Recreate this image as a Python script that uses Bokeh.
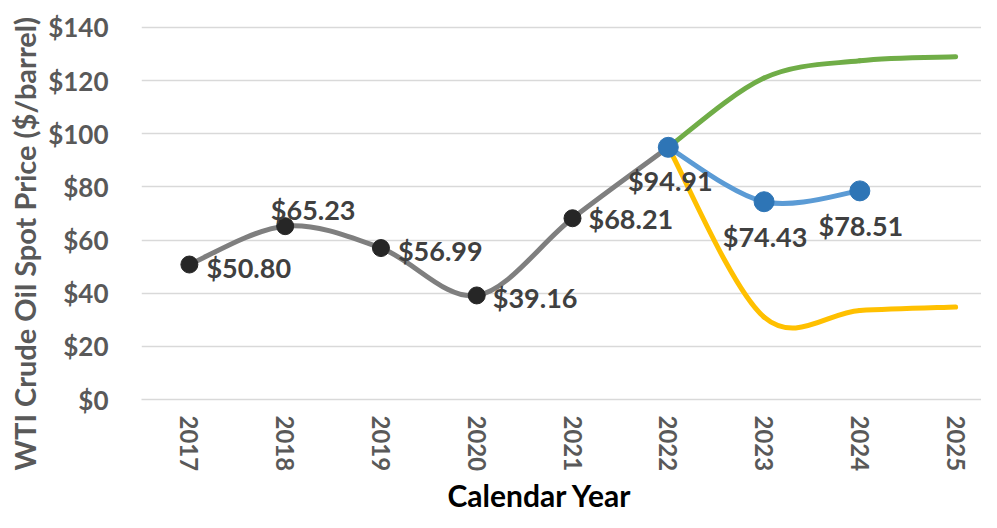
import math
from bokeh.plotting import figure
from bokeh.models import Range1d, FixedTicker, PrintfTickFormatter, ColumnDataSource, Title
from bokeh.core.properties import value
from bokeh.embed import file_html
from bokeh.resources import INLINE

# ---- data ----
years = [2017, 2018, 2019, 2020, 2021, 2022, 2023, 2024, 2025]
year_labels = ["2017", "2018", "2019", "2020", "2021", "2022", "2023", "2024", "2025"]
y_ticks = [0, 20, 40, 60, 80, 100, 120, 140]

hist_years = [2017, 2018, 2019, 2020, 2021, 2022]
hist_prices = [50.80, 65.23, 56.99, 39.16, 68.21, 94.91]

base_years = [2022, 2023, 2024]
base_prices = [94.91, 74.43, 78.51]

high_years = [2022, 2023, 2024, 2025]
high_prices = [94.91, 121.0, 127.5, 129.0]

low_years = [2022, 2023, 2024, 2025]
low_prices = [94.91, 31.0, 33.5, 34.8]

x_title = "Calendar Year"
y_title = "WTI Crude Oil Spot Price ($/barrel)"

# label placement (style only)
hist_align = ["left", "center", "left", "left", "left", "center"]
hist_dx = [17, 28, 17, 16, 16, 2]
hist_dy = [3, -17, 2, 2, 0, 33]
base_align = ["center", "center"]
base_dx = [1, 1]
base_dy = [35, 35]


def bezier_source(xs, ys, t=1.0 / 6.0):
    n = len(xs)
    d = dict(x0=[], y0=[], x1=[], y1=[], cx0=[], cy0=[], cx1=[], cy1=[])
    for i in range(n - 1):
        a = max(i - 1, 0)
        b = min(i + 2, n - 1)
        d["x0"].append(xs[i]); d["y0"].append(ys[i])
        d["x1"].append(xs[i + 1]); d["y1"].append(ys[i + 1])
        d["cx0"].append(xs[i] + (xs[i + 1] - xs[a]) * t)
        d["cy0"].append(ys[i] + (ys[i + 1] - ys[a]) * t)
        d["cx1"].append(xs[i + 1] - (xs[b] - xs[i]) * t)
        d["cy1"].append(ys[i + 1] - (ys[b] - ys[i]) * t)
    return ColumnDataSource(d)


FONT = "Lato"

X0, X1 = 2016.5, 2025.27
Y0, Y1 = 0, 150.16
p = figure(width=981, height=512,
           x_range=Range1d(X0, X1), y_range=Range1d(Y0, Y1),
           output_backend="svg", toolbar_location=None,
           min_border_left=140, min_border_right=0, min_border_top=0,
           min_border_bottom=113)
p.outline_line_color = None
p.background_fill_color = "white"
p.border_fill_color = "white"

# axes
p.yaxis.ticker = FixedTicker(ticks=y_ticks)
p.yaxis.formatter = PrintfTickFormatter(format="$%d")
p.xaxis.ticker = FixedTicker(ticks=years)
p.xaxis.major_label_overrides = {y: s for y, s in zip(years, year_labels)}
p.xaxis.major_label_orientation = -math.pi / 2

for ax in (p.xaxis, p.yaxis):
    ax.major_tick_line_color = None
    ax.minor_tick_line_color = None
    ax.major_label_text_font = FONT
    ax.major_label_text_font_style = "bold"
    ax.major_label_text_color = "#595959"

p.yaxis.major_label_text_font_size = "26px"
p.xaxis.major_label_text_font_size = "24px"
p.yaxis.axis_line_color = None
p.yaxis.major_label_standoff = 27
p.xaxis.axis_line_color = "#d9d9d9"
p.xaxis.axis_line_width = 1.5
p.xaxis.major_label_standoff = 10

p.xgrid.grid_line_color = None
p.ygrid.grid_line_color = "#d9d9d9"
p.ygrid.grid_line_width = 1.5

# axis titles
p.add_layout(Title(text=y_title, align="left", offset=-71, standoff=8,
                   text_font=FONT, text_font_style="bold", text_font_size="29px",
                   text_color="#595959"), "left")
p.add_layout(Title(text=x_title, align="left", offset=306, standoff=0,
                   text_font=FONT, text_font_style="bold", text_font_size="30px",
                   text_color="#000000"), "below")

# lines (smoothed)
p.bezier("x0", "y0", "x1", "y1", "cx0", "cy0", "cx1", "cy1",
         source=bezier_source(hist_years, hist_prices),
         line_color="#7f7f7f", line_width=5, line_cap="round")
p.bezier("x0", "y0", "x1", "y1", "cx0", "cy0", "cx1", "cy1",
         source=bezier_source(high_years, high_prices),
         line_color="#70ad47", line_width=5, line_cap="round")
p.bezier("x0", "y0", "x1", "y1", "cx0", "cy0", "cx1", "cy1",
         source=bezier_source(low_years, low_prices),
         line_color="#ffc000", line_width=5, line_cap="round")
p.bezier("x0", "y0", "x1", "y1", "cx0", "cy0", "cx1", "cy1",
         source=bezier_source(base_years, base_prices),
         line_color="#5b9bd5", line_width=5, line_cap="round")

# markers
p.scatter(hist_years[:-1], hist_prices[:-1], size=17, color="#262626")
p.scatter(base_years, base_prices, size=20, color="#2e75b6")

# data labels
hist_text = ["$%.2f" % v for v in hist_prices]
base_text = ["$%.2f" % v for v in base_prices[1:]]
src_h = ColumnDataSource(dict(x=hist_years, y=hist_prices, t=hist_text,
                              a=hist_align, dx=hist_dx, dy=hist_dy))
src_b = ColumnDataSource(dict(x=base_years[1:], y=base_prices[1:], t=base_text,
                              a=base_align, dx=base_dx, dy=base_dy))
for src in (src_h, src_b):
    p.text(x="x", y="y", text="t", source=src, text_align="a",
           x_offset="dx", y_offset="dy", text_baseline="middle",
           text_font=value(FONT), text_font_style="bold",
           text_font_size="27px", text_color="#404040")

open("out.html", "w").write(file_html(p, INLINE))
